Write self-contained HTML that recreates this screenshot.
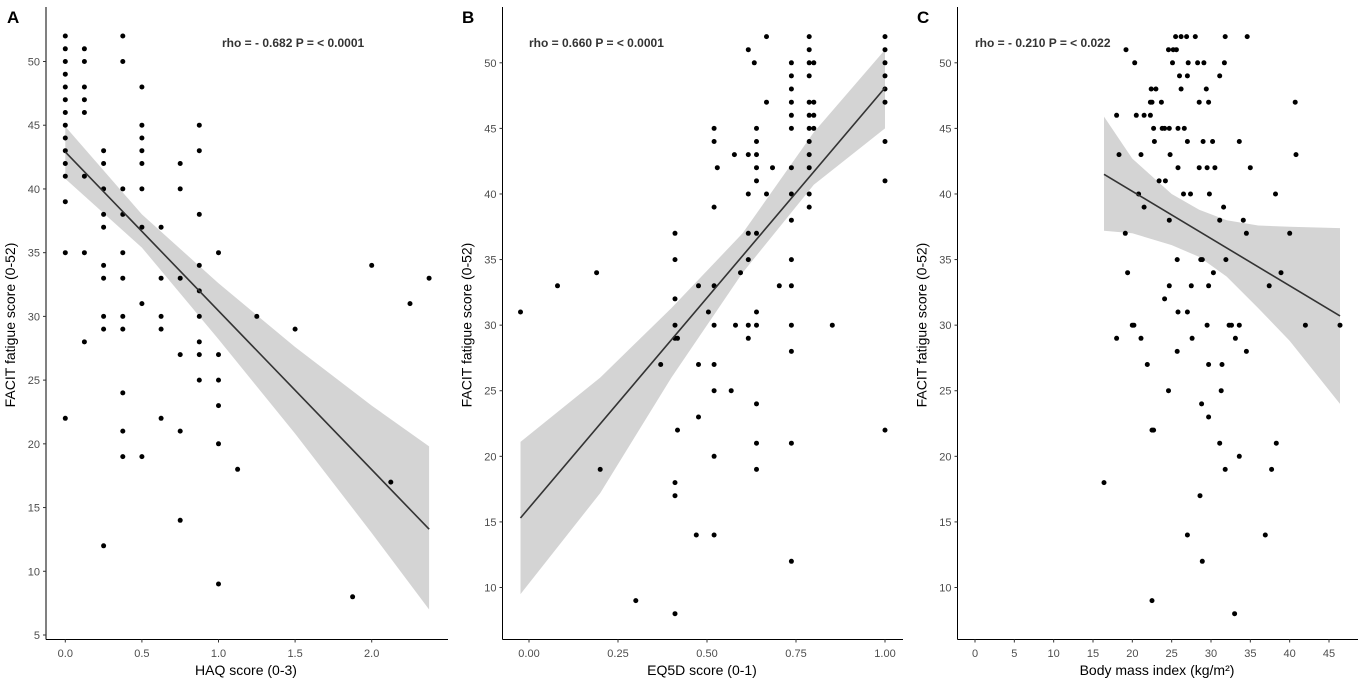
<!DOCTYPE html>
<html><head><meta charset="utf-8"><style>
body{margin:0;background:#fff;}
svg{display:block;font-family:"Liberation Sans",Arial,sans-serif;}
</style></head><body>
<svg id="chart" width="1366" height="685" viewBox="0 0 1366 685" xmlns="http://www.w3.org/2000/svg"></svg>
<script>
// Panel A: HAQ
const haqX = [0,0,0,0,0,0,0,0,0,0,0,0,0,0,0,
 0.125,0.125,0.125,0.125,0.125,0.125,0.125,0.125,
 0.25,0.25,0.25,0.25,0.25,0.25,0.25,0.25,0.25,0.25,
 0.375,0.375,0.375,0.375,0.375,0.375,0.375,0.375,0.375,0.375,0.375,
 0.5,0.5,0.5,0.5,0.5,0.5,0.5,0.5,0.5,
 0.625,0.625,0.625,0.625,0.625,
 0.75,0.75,0.75,0.75,0.75,0.75,
 0.875,0.875,0.875,0.875,0.875,0.875,0.875,0.875,0.875,
 1,1,1,1,1,1, 1.125,1.25,1.5,1.875,2,2.125,2.25,2.375];
const haqY = [52,51,50,49,48,47,46,45,44,43,42,41,39,35,22,
 51,50,48,47,46,41,35,28,
 43,42,40,38,37,34,33,30,29,12,
 52,50,40,38,35,33,30,29,24,21,19,
 48,45,44,43,42,40,37,31,19,
 37,33,30,29,22,
 42,40,33,27,21,14,
 45,43,38,34,32,30,28,27,25,
 35,27,25,23,20,9, 18,30,29,8,34,17,31,33];
const haqFit = [42.9, 13.3];
const haqBandX = [0,0.5,1.0,1.5,2.0,2.375];
const haqBandLo = [40.8,35.4,28.2,20.8,13.0,7.0];
const haqBandHi = [44.9,38.0,32.6,27.6,23.0,19.8];
const haqXTicks = ["0.0","0.5","1.0","1.5","2.0"];
const haqYTicks = ["5","10","15","20","25","30","35","40","45","50"];

// Panel B: EQ5D
const eqX = [-0.024,0.08,0.19,0.20,0.30,0.37,
 0.41,0.41,0.41,0.41,0.41,0.417,0.417,0.41,0.41,0.41,
 0.47,0.476,0.476,0.476,0.504,
 0.52,0.52,0.52,0.52,0.52,0.52,0.52,0.52,0.52,
 0.529,0.568,0.577,0.58,0.594,
 0.616,0.616,0.616,0.616,0.616,0.616,0.616,0.633,
 0.639,0.639,0.639,0.639,0.639,0.639,0.639,0.639,0.639,0.639,0.639,
 0.667,0.667,0.667,0.684,0.703,
 0.737,0.737,0.737,0.737,0.737,0.737,0.737,0.737,0.737,0.737,0.737,0.737,0.737,0.737,0.737,
 0.787,0.787,0.787,0.787,0.787,0.787,0.787,0.787,0.787,0.787,0.787,0.787,
 0.80,0.80,0.80,0.80,0.852,
 1,1,1,1,1,1,1,1,1];
const eqY = [31,33,34,19,9,27,
 37,35,32,30,29,29,22,18,17,8,
 14,33,27,23,31,
 45,44,39,33,30,27,25,20,14,
 42,25,43,30,34,
 51,43,40,37,35,30,29,50,
 45,44,43,42,41,37,31,30,24,21,19,
 52,47,40,42,33,
 50,49,48,47,46,45,42,40,38,35,33,30,28,21,12,
 52,51,50,49,47,46,45,44,43,42,40,39,
 50,47,46,45,30,
 52,51,50,49,48,47,44,41,22];
const eqFit = [15.3, 48.1];
const eqBandX = [-0.024,0.2,0.4,0.6,0.8,1.0];
const eqBandLo = [9.5,17.2,26.0,34.0,40.7,45.0];
const eqBandHi = [21.1,26.0,31.3,37.0,44.7,51.0];
const eqXTicks = ["0.00","0.25","0.50","0.75","1.00"];
const eqYTicks = ["10","15","20","25","30","35","40","45","50"];

// Panel C: BMI
const bmiX = [16.4,18,18,18.3,19.1,19.2,19.4,20,20.2,20.3,20.5,20.8,21.1,21.1,21.5,21.5,21.9,22.3,22.4,22.3,22.5,22.5,22.7,22.5,22.7,22.8,23,23.4,23.7,23.8,24.1,24.1,24.2,24.6,24.6,24.7,24.7,24.7,24.8,25.1,25.2,25.5,25.6,25.7,25.7,25.8,25.8,25.8,26,26.2,26.2,26.5,26.6,26.9,27,27,27,27,27.1,27.4,27.5,27.6,28,28.3,28.5,28.5,28.7,28.9,28.8,28.6,28.9,29,29.1,29.4,29.5,29.5,29.7,29.7,29.7,29.7,29.8,30.2,30.3,30.5,31.1,31.1,31.1,31.3,31.4,31.6,31.7,31.8,31.8,31.9,32.3,32.6,33.1,33,33.6,33.6,33.6,34.1,34.5,34.5,34.6,35,36.9,37.4,37.7,38.2,38.3,38.9,40,40.7,40.8,42,46.4];
const bmiY = [18,46,29,43,37,51,34,30,30,50,46,40,43,29,46,39,27,46,48,47,47,22,22,9,45,44,48,41,47,45,45,32,41,51,25,45,38,33,43,50,51,52,51,35,28,45,42,31,49,48,52,40,45,52,49,44,31,14,50,40,33,29,52,50,47,42,35,35,24,17,12,44,50,48,42,30,47,33,27,23,40,44,34,42,49,38,21,25,27,39,50,52,19,35,30,30,29,8,44,30,20,38,37,28,52,42,14,33,19,40,21,34,37,47,43,30,30];
const bmiFit = [41.5, 30.7];
const bmiBandX = [16.4,20,25,28.5,32,36,40,46.4];
const bmiBandLo = [37.2,37.0,36.1,35.2,33.7,31.3,28.8,24.0];
const bmiBandHi = [45.9,42.7,40.0,38.8,38.0,37.6,37.5,37.4];
const bmiXTicks = ["0","5","10","15","20","25","30","35","40","45"];
const bmiYTicks = ["10","15","20","25","30","35","40","45","50"];

const NS = "http://www.w3.org/2000/svg";
const svg = document.getElementById('chart');
const AXIS_BOTTOM = 639.5, AXIS_TOP = 7;
function mk(tag, attrs, parent, text){
  const e = document.createElementNS(NS, tag);
  for (const k in attrs) e.setAttribute(k, attrs[k]);
  if (text !== undefined) e.textContent = text;
  parent.appendChild(e);
  return e;
}

function panel(cfg){
  const g = mk('g', {}, svg);
  
  
  const sx = v => cfg.px0 + (v - cfg.x0) * (cfg.px1 - cfg.px0) / (cfg.x1 - cfg.x0);
  const sy = v => cfg.py0 + (v - cfg.y0) * (cfg.py1 - cfg.py0) / (cfg.y1 - cfg.y0);
  let d = '';
  cfg.bx.forEach((x,i)=>{ d += (i?'L':'M') + sx(x).toFixed(1) + ',' + sy(cfg.bhi[i]).toFixed(1); });
  for (let i = cfg.bx.length-1; i >= 0; i--) d += 'L' + sx(cfg.bx[i]).toFixed(1) + ',' + sy(cfg.blo[i]).toFixed(1);
  const band = mk('path', {d: d + 'Z', fill: '#d4d4d4'}, g);
  
  
  cfg.xs.forEach((x,i)=>{
    const c = mk('circle', {cx: sx(x).toFixed(1), cy: sy(cfg.ys[i]).toFixed(1), r: 2.5, fill: '#000'}, g);
    
    
  });
  const xa = cfg.bx[0], xb = cfg.bx[cfg.bx.length-1];
  const ln = mk('line', {x1: sx(xa), y1: sy(cfg.fit[0]), x2: sx(xb), y2: sy(cfg.fit[1]), stroke: '#333', 'stroke-width': 1.6}, g);
  
  
  const ax = cfg.axisX;
  const yl = mk('line', {x1: ax, y1: AXIS_TOP, x2: ax, y2: AXIS_BOTTOM, stroke: '#000', 'stroke-width': 1}, g);
  
  
  const xl = mk('line', {x1: ax, y1: AXIS_BOTTOM, x2: cfg.axisEnd, y2: AXIS_BOTTOM, stroke: '#000', 'stroke-width': 1}, g);
  
  
  cfg.yt.forEach(t=>{
    const y = sy(parseFloat(t));
    mk('line', {x1: ax-3, y1: y, x2: ax, y2: y, stroke: '#333'}, g);
    const tx = mk('text', {x: ax-6, y: y+4, 'text-anchor': 'end', 'font-size': 11, fill: '#4d4d4d'}, g, t);
    
    
  });
  cfg.xt.forEach(t=>{
    const x = sx(parseFloat(t));
    mk('line', {x1: x, y1: AXIS_BOTTOM, x2: x, y2: AXIS_BOTTOM+3, stroke: '#333'}, g);
    const tx = mk('text', {x: x, y: 657, 'text-anchor': 'middle', 'font-size': 11, fill: '#4d4d4d'}, g, t);
    
    
  });
  const xtitle = mk('text', {x: cfg.xTitleX, y: 675, 'text-anchor': 'middle', 'font-size': 14, fill: '#000'}, g, cfg.xTitle);
  
  
  const yx = ax - 31;
  const ytitle = mk('text', {x: yx, y: 325, 'text-anchor': 'middle', 'font-size': 14, fill: '#000', transform: 'rotate(-90 ' + yx + ' 325)'}, g, 'FACIT fatigue score (0-52)');
  
  
  const lab = mk('text', {x: cfg.letterX, y: 23, 'font-size': 17, 'font-weight': 'bold', fill: '#000'}, g, cfg.letter);
  
  
  const ann = mk('text', {x: cfg.annX, y: 47, 'font-size': 12, 'font-weight': 'bold', fill: '#333'}, g, cfg.ann);
  
  
}

panel({name:'panel-a-haq', xs:haqX, ys:haqY, fit:haqFit, bx:haqBandX, blo:haqBandLo, bhi:haqBandHi,
  xt:haqXTicks, yt:haqYTicks, x0:0, x1:2, px0:65.3, px1:371.7, y0:50, y1:5, py0:61.5, py1:635,
  axisX:46, axisEnd:448, xTitle:'HAQ score (0-3)', xTitleX:246, letter:'A', letterX:7,
  ann:'rho = - 0.682 P = < 0.0001', annX:222});
panel({name:'panel-b-eq5d', xs:eqX, ys:eqY, fit:eqFit, bx:eqBandX, blo:eqBandLo, bhi:eqBandHi,
  xt:eqXTicks, yt:eqYTicks, x0:0, x1:1, px0:529, px1:885, y0:50, y1:10, py0:62.8, py1:587.5,
  axisX:502.5, axisEnd:903, xTitle:'EQ5D score (0-1)', xTitleX:702, letter:'B', letterX:462,
  ann:'rho = 0.660 P = < 0.0001', annX:529});
panel({name:'panel-c-bmi', xs:bmiX, ys:bmiY, fit:bmiFit, bx:bmiBandX, blo:bmiBandLo, bhi:bmiBandHi,
  xt:bmiXTicks, yt:bmiYTicks, x0:0, x1:45, px0:975, px1:1329, y0:50, y1:10, py0:62.8, py1:587.5,
  axisX:957.5, axisEnd:1358, xTitle:'Body mass index (kg/m²)', xTitleX:1157, letter:'C', letterX:917,
  ann:'rho = - 0.210 P = < 0.022', annX:975});
</script>
</body></html>
